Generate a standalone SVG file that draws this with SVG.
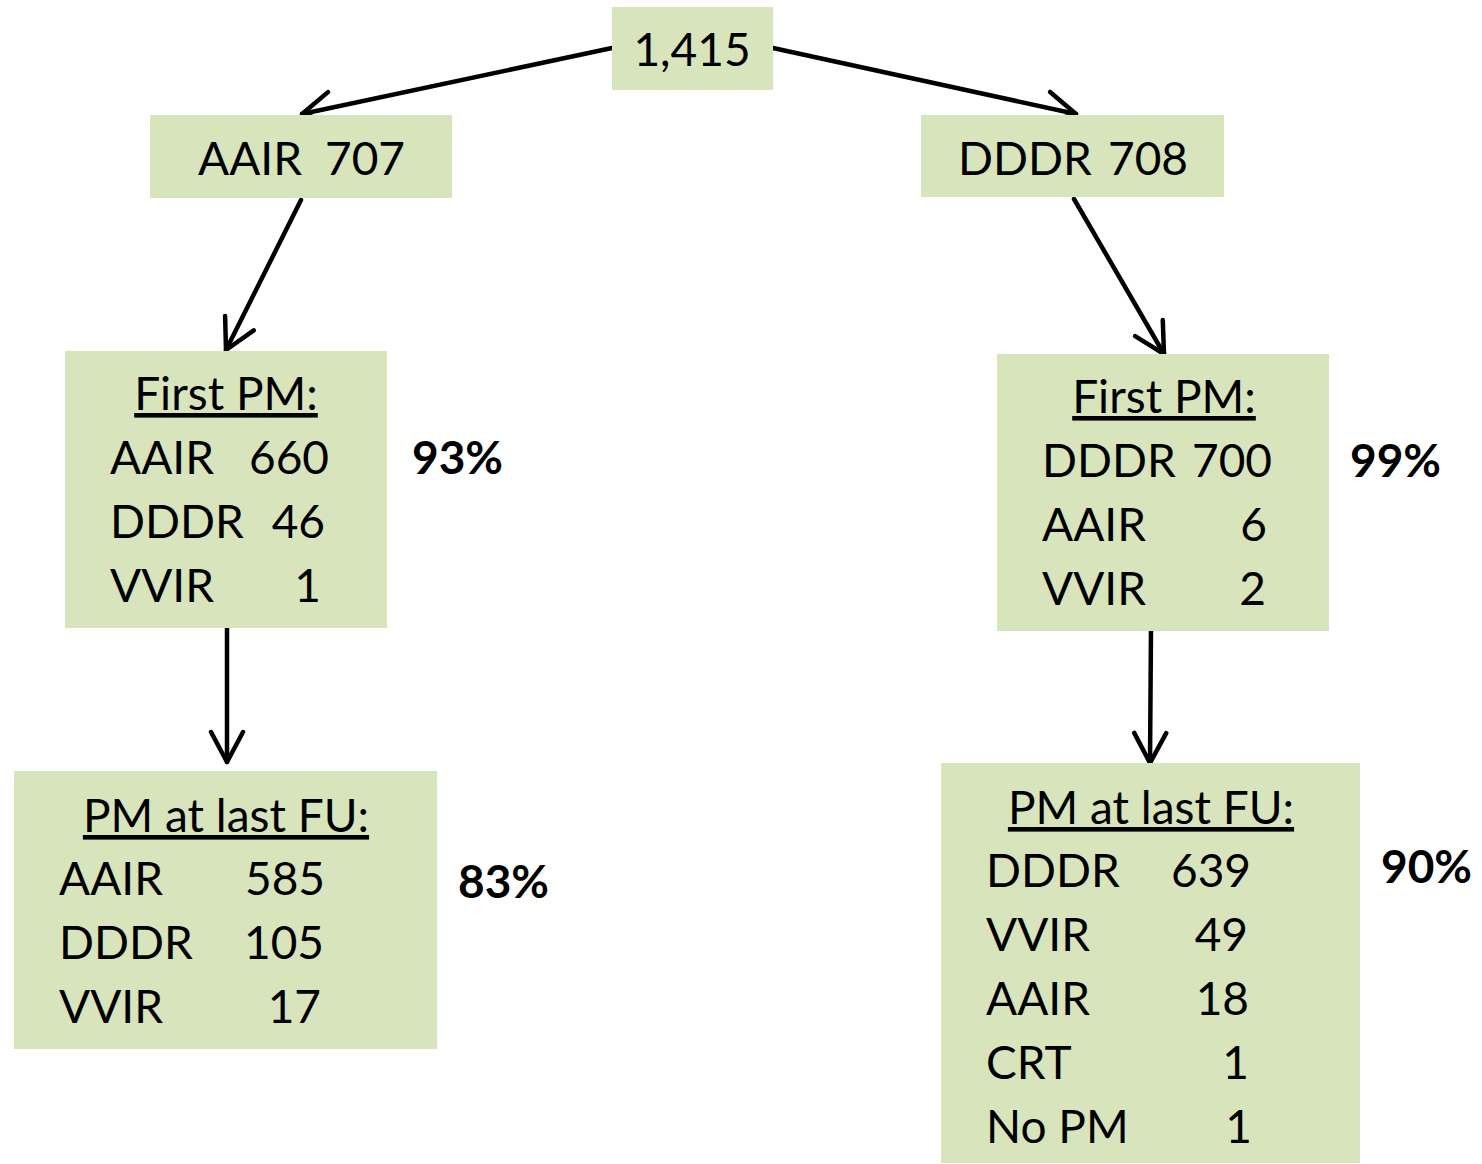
<svg xmlns="http://www.w3.org/2000/svg" width="1482" height="1164" viewBox="0 0 1482 1164">
<style>
.box{fill:#d8e4bc;}
text{font-family:Lato,"Open Sans","Liberation Sans",sans-serif;font-size:46px;fill:#000;}
.b{font-weight:bold;}
.e{text-anchor:end;}
.m{text-anchor:middle;}
.u{text-decoration:underline;}
.conn{stroke:#000;stroke-width:4.5;fill:none;stroke-linecap:round;}
</style>
<defs>
<marker id="arr" markerUnits="userSpaceOnUse" markerWidth="44" markerHeight="44" viewBox="-36 -22 44 44" refX="0" refY="0" orient="auto">
<path d="M-30,-16 L0,0 L-30,16" fill="none" stroke="#000" stroke-width="4.5" stroke-linecap="round" stroke-linejoin="round"/>
</marker>
</defs>
<rect width="1482" height="1164" fill="#fff"/>
<g id="connectors">
<line class="conn" x1="612" y1="48" x2="302" y2="114" marker-end="url(#arr)"/>
<line class="conn" x1="773" y1="48" x2="1076" y2="114" marker-end="url(#arr)"/>
<line class="conn" x1="301" y1="200" x2="226" y2="350" marker-end="url(#arr)"/>
<line class="conn" x1="1074" y1="199" x2="1164" y2="354" marker-end="url(#arr)"/>
<line class="conn" x1="227" y1="628" x2="227" y2="762" marker-end="url(#arr)"/>
<line class="conn" x1="1151" y1="628" x2="1150" y2="763" marker-end="url(#arr)"/>
</g>
<g id="root">
<rect class="box" x="612" y="7" width="161" height="83"/>
<text class="m" x="692" y="66">1,415</text>
</g>
<g id="aair">
<rect class="box" x="150" y="115" width="302" height="83"/>
<text x="198" y="175">AAIR</text><text class="e" x="405" y="175">707</text>
</g>
<g id="dddr">
<rect class="box" x="921" y="115" width="303" height="82"/>
<text x="958" y="175">DDDR</text><text class="e" x="1188" y="175">708</text>
</g>
<g id="first-pm-left">
<rect class="box" x="65" y="351" width="322" height="277"/>
<text class="m u" x="226" y="410">First PM:</text>
<text x="110" y="474">AAIR</text><text class="e" x="329" y="474">660</text>
<text x="110" y="538">DDDR</text><text class="e" x="325" y="538">46</text>
<text x="110" y="602">VVIR</text><text class="e" x="321" y="602">1</text>
</g>
<text id="pct-93" class="b" x="412" y="474">93%</text>
<g id="first-pm-right">
<rect class="box" x="997" y="354" width="332" height="277"/>
<text class="m u" x="1164" y="413">First PM:</text>
<text x="1042" y="477">DDDR</text><text class="e" x="1272" y="477">700</text>
<text x="1042" y="541">AAIR</text><text class="e" x="1267" y="541">6</text>
<text x="1042" y="605">VVIR</text><text class="e" x="1266" y="605">2</text>
</g>
<text id="pct-99" class="b" x="1350" y="477">99%</text>
<g id="last-fu-left">
<rect class="box" x="14" y="771" width="423" height="278"/>
<text class="m u" x="226" y="832">PM at last FU:</text>
<text x="59" y="895">AAIR</text><text class="e" x="325" y="895">585</text>
<text x="59" y="959">DDDR</text><text class="e" x="324" y="959">105</text>
<text x="59" y="1023">VVIR</text><text class="e" x="321" y="1023">17</text>
</g>
<text id="pct-83" class="b" x="458" y="898">83%</text>
<g id="last-fu-right">
<rect class="box" x="941" y="763" width="419" height="400"/>
<text class="m u" x="1151" y="824">PM at last FU:</text>
<text x="986" y="887">DDDR</text><text class="e" x="1251" y="887">639</text>
<text x="986" y="951">VVIR</text><text class="e" x="1248" y="951">49</text>
<text x="986" y="1015">AAIR</text><text class="e" x="1249" y="1015">18</text>
<text x="986" y="1079">CRT</text><text class="e" x="1249" y="1079">1</text>
<text x="986" y="1143">No PM</text><text class="e" x="1252" y="1143">1</text>
</g>
<text id="pct-90" class="b" x="1381" y="883">90%</text>
</svg>
